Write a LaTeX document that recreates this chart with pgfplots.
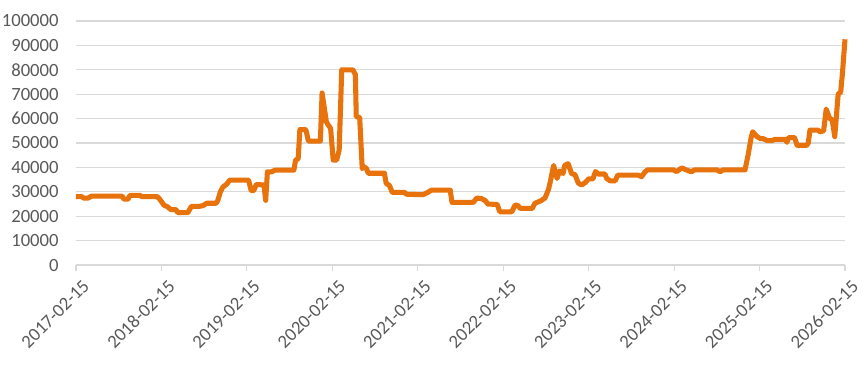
\documentclass[border=0pt]{standalone}
\usepackage{pgfplots}
\pgfplotsset{compat=1.18}
\usepackage{fontspec}
\setmainfont{Carlito}
\definecolor{lineor}{HTML}{E8720C}
\definecolor{gridg}{HTML}{D9D9D9}
\definecolor{labg}{HTML}{595959}
\begin{document}
\begin{tikzpicture}
\begin{axis}[
  scale only axis,
  width=576.75pt, height=183pt,
  xmin=0, xmax=9, ymin=0, ymax=100000,
  xtick={0,1,2,3,4,5,6,7,8,9},
  xticklabels={2017-02-15,2018-02-15,2019-02-15,2020-02-15,2021-02-15,2022-02-15,2023-02-15,2024-02-15,2025-02-15,2026-02-15},
  ytick={0,10000,20000,30000,40000,50000,60000,70000,80000,90000,100000},
  yticklabels={0,10000,20000,30000,40000,50000,60000,70000,80000,90000,100000},
  scaled y ticks=false,
  axis line style={draw=none},
  ymajorgrids, grid style={draw=gridg, line width=0.9pt},
  xtick pos=bottom, ytick pos=left,
  tick align=outside,
  xtick style={draw=gridg, line width=0.9pt},
  major tick length=4.5pt,
  ytick style={draw=none},
  ticklabel style={font=\fontsize{14}{16}\selectfont, text=labg},
  xticklabel style={rotate=45, anchor=north east, inner sep=1pt, yshift=-6pt},
  yticklabel style={xshift=-5pt},
  clip=false,
]
\addplot[draw=lineor, line width=3.8pt, line join=round] coordinates {
(0.00,28000) (0.07,28000) (0.09,27400) (0.14,27400) (0.18,28200) (0.54,28200)
(0.56,27000) (0.61,27000) (0.63,28500) (0.75,28500) (0.77,28000) (0.95,28000)
(0.98,27000) (1.03,24500) (1.07,23900) (1.11,22700) (1.17,22700) (1.19,21500)
(1.31,21500) (1.35,24000) (1.44,24000) (1.49,24400) (1.53,25300) (1.64,25300)
(1.66,26500) (1.69,30000) (1.72,32000) (1.76,33000) (1.80,34800) (2.02,34800)
(2.05,30500) (2.08,30500) (2.11,33000) (2.20,32800) (2.22,26500) (2.24,38200)
(2.29,38200) (2.33,38900) (2.55,38900) (2.57,43000) (2.60,43500) (2.62,55500)
(2.69,55500) (2.72,50800) (2.86,50800) (2.88,70500) (2.93,58700) (2.95,57500)
(2.98,56000) (3.01,43000) (3.05,43000) (3.08,47000) (3.11,80000) (3.24,80000)
(3.27,78000) (3.28,60800) (3.32,60500) (3.35,39500) (3.37,40300) (3.40,39500)
(3.42,37600) (3.61,37600) (3.63,33500) (3.67,32500) (3.70,29800) (3.84,29800)
(3.87,29000) (4.06,28800) (4.12,29800) (4.16,30700) (4.38,30700) (4.40,25700)
(4.65,25700) (4.69,27400) (4.74,27300) (4.79,26400) (4.82,25000) (4.93,24800)
(4.96,21800) (5.10,21800) (5.14,24600) (5.17,24400) (5.20,23200) (5.34,23200)
(5.37,25300) (5.44,26300) (5.49,27500) (5.53,31000) (5.55,34000) (5.59,40800)
(5.63,35500) (5.66,38500) (5.70,37500) (5.72,40800) (5.76,41500) (5.80,37500)
(5.84,37000) (5.88,33500) (5.92,32800) (5.96,33800) (6.00,35300) (6.05,35300)
(6.08,38300) (6.11,37300) (6.19,37300) (6.21,35500) (6.25,34500) (6.31,34500)
(6.34,36800) (6.58,36800) (6.62,36200) (6.66,38200) (6.69,39000) (6.99,39000)
(7.03,38300) (7.09,39800) (7.14,39000) (7.20,38200) (7.24,39000) (7.50,39000)
(7.54,38200) (7.57,39000) (7.83,39000) (7.87,45800) (7.90,52000) (7.92,54600)
(7.97,52600) (8.01,51800) (8.04,51800) (8.09,51000) (8.15,51000) (8.18,51500)
(8.30,51500) (8.32,50300) (8.34,52200) (8.41,52200) (8.44,49000) (8.55,49000)
(8.57,50000) (8.59,55300) (8.68,55300) (8.71,54600) (8.75,55000) (8.78,63900)
(8.82,60100) (8.85,59500) (8.88,52600) (8.92,70000) (8.95,71000) (8.97,78600)
(9.00,92500)
};
\end{axis}
\pgfresetboundingbox
\path[use as bounding box] ([shift={(-57pt,-80.25pt)}]current axis.south west) rectangle ([shift={(15pt,15.75pt)}]current axis.north east);
\end{tikzpicture}
\end{document}
